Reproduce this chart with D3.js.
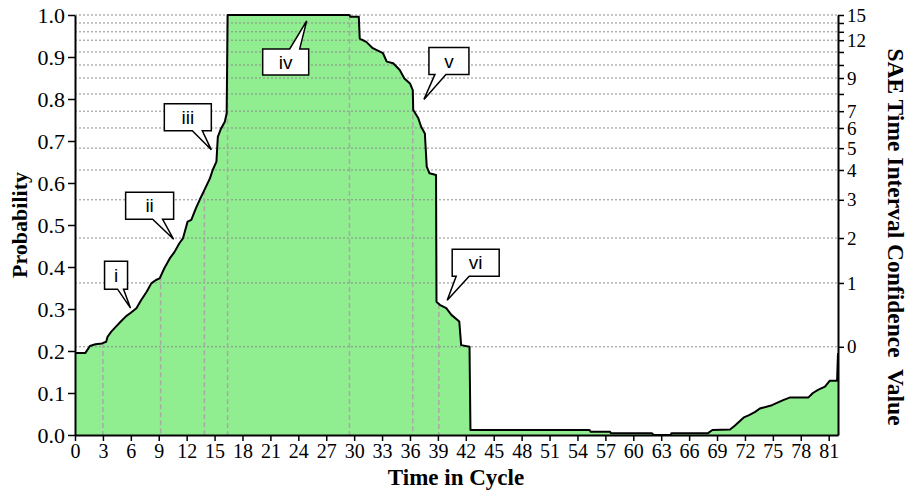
<!DOCTYPE html>
<html>
<head>
<meta charset="utf-8">
<script src="https://cdn.jsdelivr.net/npm/d3@7"></script>
<style>
  body { margin: 0; background: #fff; }
  #chart { width: 910px; height: 494px; }
  .tick text { font-family: "Liberation Serif", "Times New Roman", serif; fill: #000; }
  .axis-title { font-family: "Liberation Serif", "Times New Roman", serif; font-weight: bold; fill: #000; }
  .callout text { font-family: "Liberation Sans", Arial, sans-serif; font-size: 19px; fill: #000; }
</style>
</head>
<body>
<div id="chart"></div>
<script>
// curve: time in cycle vs probability
var cycleTime = [0, 1.1, 1.6, 2.2, 2.9, 3.35, 3.5, 3.9, 4.4, 5.0, 5.5, 6.0, 6.6, 7.1, 7.7, 8.2, 8.7, 9.1, 9.6, 10.2,
  10.7, 11.2, 11.6, 12.1, 12.5, 13.0, 13.4, 13.9, 14.5, 14.8, 15.2, 15.35, 15.7, 16.1, 16.3, 16.4,
  29.5, 29.6, 30.5, 30.6, 31.3, 32.0, 33.1, 33.5, 34.2, 34.9, 35.4, 36.0, 36.3, 36.35, 36.9, 37.2, 37.6,
  37.8, 38.1, 38.8, 38.85, 39.2, 39.9, 40.45, 41.3, 41.5, 42.4, 42.5,
  55.3, 55.4, 57.5, 57.6, 62.0, 62.2, 64.0, 64.1, 68.0, 68.5, 70.4, 70.9, 71.4, 71.9, 72.5, 73.1, 73.6,
  74.9, 76.1, 76.8, 78.8, 79.3, 79.9, 80.6, 81.1, 81.9, 82];
var probability = [0.195, 0.195, 0.212, 0.216, 0.218, 0.222, 0.234, 0.246, 0.258, 0.272, 0.283, 0.291, 0.302, 0.321, 0.341, 0.361, 0.369, 0.373, 0.397, 0.421,
  0.436, 0.456, 0.468, 0.508, 0.512, 0.540, 0.560, 0.583, 0.611, 0.631, 0.651, 0.710, 0.730, 0.746, 0.766, 1.0,
  1.0, 0.996, 0.996, 0.944, 0.936, 0.921, 0.909, 0.889, 0.885, 0.869, 0.849, 0.837, 0.821, 0.774, 0.754, 0.734, 0.718,
  0.639, 0.623, 0.619, 0.317, 0.310, 0.302, 0.286, 0.270, 0.214, 0.210, 0.012,
  0.012, 0.008, 0.008, 0.004, 0.004, 0.0, 0.0, 0.004, 0.004, 0.012, 0.013, 0.022, 0.032, 0.042, 0.048, 0.055, 0.063,
  0.071, 0.083, 0.089, 0.089, 0.100, 0.108, 0.115, 0.129, 0.129, 0.195];

// right axis: SAE confidence value and the probability it sits at
var confValues = [0, 1, 2, 3, 4, 5, 6, 7, 8, 9, 10, 11, 12, 13, 14, 15];
var confProb = [0.21, 0.362, 0.469, 0.560, 0.631, 0.683, 0.731, 0.771, 0.812, 0.850, 0.881, 0.912, 0.940, 0.960, 0.981, 1.0];
var confLabeled = [0, 1, 2, 3, 4, 5, 6, 7, 9, 12, 15];

var xTicks = [0, 3, 6, 9, 12, 15, 18, 21, 24, 27, 30, 33, 36, 39, 42, 45, 48, 51, 54, 57, 60, 63, 66, 69, 72, 75, 78, 81];
var yTicks = [0, 0.1, 0.2, 0.3, 0.4, 0.5, 0.6, 0.7, 0.8, 0.9, 1.0];

// vertical drop lines
var dropTimes = [3.0, 9.2, 13.9, 16.4, 29.5, 36.3, 39.1];

// callouts
var calloutLabels = ["i", "ii", "iii", "iv", "v", "vi"];
var calloutTime = [5.97, 10.6, 14.65, 24.9, 37.5, 40.0];
var calloutProb = [0.302, 0.466, 0.679, 0.986, 0.799, 0.321];

var width = 910, height = 494;
var margin = {top: 15, right: 72, bottom: 59, left: 75};

var svg = d3.select("#chart").append("svg")
  .attr("width", width)
  .attr("height", height);

var x = d3.scaleLinear().domain([0, 82]).range([margin.left, width - margin.right]);
var y = d3.scaleLinear().domain([0, 1]).range([height - margin.bottom, margin.top]);

var pts = cycleTime.map(function(t, i) { return [t, probability[i]]; });

function probAt(t) {
  for (var i = 0; i < cycleTime.length - 1; i++) {
    if (t >= cycleTime[i] && t <= cycleTime[i + 1]) {
      var a = cycleTime[i], b = cycleTime[i + 1];
      if (b === a) return probability[i + 1];
      return probability[i] + (probability[i + 1] - probability[i]) * (t - a) / (b - a);
    }
  }
  return 0;
}

// fill
svg.append("path")
  .datum(pts)
  .attr("fill", "#90ee90")
  .attr("d", d3.area()
    .x(function(d) { return x(d[0]); })
    .y0(y(0))
    .y1(function(d) { return y(d[1]); }));

// horizontal grid at confidence levels
svg.append("g").selectAll("line")
  .data(confProb)
  .enter().append("line")
  .attr("x1", x(0)).attr("x2", x(82))
  .attr("y1", function(d) { return y(d); })
  .attr("y2", function(d) { return y(d); })
  .attr("stroke", "#8c8c8c")
  .attr("stroke-width", 1)
  .attr("stroke-dasharray", "2,2");

// drop lines
svg.append("g").selectAll("line")
  .data(dropTimes)
  .enter().append("line")
  .attr("x1", function(d) { return x(d); })
  .attr("x2", function(d) { return x(d); })
  .attr("y1", function(d) { return y(probAt(d)); })
  .attr("y2", y(0))
  .attr("stroke", "#a8a8a8")
  .attr("stroke-width", 1.5)
  .attr("stroke-dasharray", "5,3");

// curve
svg.append("path")
  .datum(pts)
  .attr("fill", "none")
  .attr("stroke", "#000")
  .attr("stroke-width", 2)
  .attr("stroke-linejoin", "round")
  .attr("d", d3.line()
    .x(function(d) { return x(d[0]); })
    .y(function(d) { return y(d[1]); }));

// axes
var xAxis = svg.append("g")
  .attr("transform", "translate(0," + y(0) + ")")
  .call(d3.axisBottom(x).tickValues(xTicks).tickFormat(d3.format("d")).tickSize(6).tickSizeOuter(0).tickPadding(3));
xAxis.selectAll("text").style("font-size", "20px");

var yAxis = svg.append("g")
  .attr("transform", "translate(" + x(0) + ",0)")
  .call(d3.axisLeft(y).tickValues(yTicks).tickFormat(d3.format(".1f")).tickSize(7).tickSizeOuter(0).tickPadding(3));
yAxis.selectAll("text").style("font-size", "22px");

var rAxis = svg.append("g")
  .attr("transform", "translate(" + x(82) + ",0)")
  .call(d3.axisRight(y).tickValues(confProb).tickSize(6).tickSizeOuter(0).tickPadding(3)
    .tickFormat(function(d, i) { return confLabeled.indexOf(confValues[i]) >= 0 ? confValues[i] : ""; }));
rAxis.selectAll("text").style("font-size", "19px");

svg.selectAll(".domain").attr("stroke", "#000").attr("stroke-width", 2);
svg.selectAll(".tick line").attr("stroke", "#000").attr("stroke-width", 1.5);

// titles
svg.append("text")
  .attr("class", "axis-title")
  .attr("transform", "translate(27," + ((margin.top + height - margin.bottom) / 2) + ") rotate(-90)")
  .attr("text-anchor", "middle")
  .style("font-size", "22px")
  .text("Probability");

svg.append("text")
  .attr("class", "axis-title")
  .attr("x", 456)
  .attr("y", 485)
  .attr("text-anchor", "middle")
  .style("font-size", "23px")
  .text("Time in Cycle");

svg.append("text")
  .attr("class", "axis-title")
  .attr("transform", "translate(888,237) rotate(90)")
  .attr("text-anchor", "middle")
  .style("font-size", "23.5px")
  .attr("xml:space", "preserve")
  .text("SAE Time Interval Confidence  Value");

// callout boxes: offsets from the pointer tip
var calloutLayout = [
  {dx: -26, dy: -47, w: 23, h: 28, b1: -13, b2: -7, side: "bottom"},
  {dx: -48, dy: -47, w: 48, h: 27, b1: -21, b2: -11, side: "bottom"},
  {dx: -47, dy: -46, w: 47, h: 27, b1: -19, b2: -9, side: "bottom"},
  {dx: -44, dy: 28, w: 46, h: 26, b1: -17, b2: -7, side: "top"},
  {dx: 5, dy: -52, w: 40, h: 27, b1: 11, b2: 22, side: "bottom"},
  {dx: 5, dy: -51, w: 47, h: 27, b1: 9, b2: 22, side: "bottom"}
];

var callouts = svg.append("g").selectAll("g")
  .data(calloutLabels)
  .enter().append("g")
  .attr("class", "callout");

callouts.append("path")
  .attr("fill", "#fff")
  .attr("stroke", "#000")
  .attr("stroke-width", 1.5)
  .attr("d", function(d, i) {
    var c = calloutLayout[i];
    var tx = x(calloutTime[i]), ty = y(calloutProb[i]);
    var x0 = tx + c.dx, y0 = ty + c.dy;
    if (c.side === "top") {
      return "M" + x0 + "," + y0 + "H" + (tx + c.b1) + "L" + tx + "," + ty + "L" + (tx + c.b2) + "," + y0 +
        "H" + (x0 + c.w) + "V" + (y0 + c.h) + "H" + x0 + "Z";
    }
    return "M" + x0 + "," + y0 + "H" + (x0 + c.w) + "V" + (y0 + c.h) + "H" + (tx + c.b2) +
      "L" + tx + "," + ty + "L" + (tx + c.b1) + "," + (y0 + c.h) + "H" + x0 + "Z";
  });

callouts.append("text")
  .attr("x", function(d, i) { return x(calloutTime[i]) + calloutLayout[i].dx + calloutLayout[i].w / 2; })
  .attr("y", function(d, i) { return y(calloutProb[i]) + calloutLayout[i].dy + calloutLayout[i].h / 2; })
  .attr("text-anchor", "middle")
  .attr("dy", "0.35em")
  .text(function(d) { return d; });
</script>
</body>
</html>
